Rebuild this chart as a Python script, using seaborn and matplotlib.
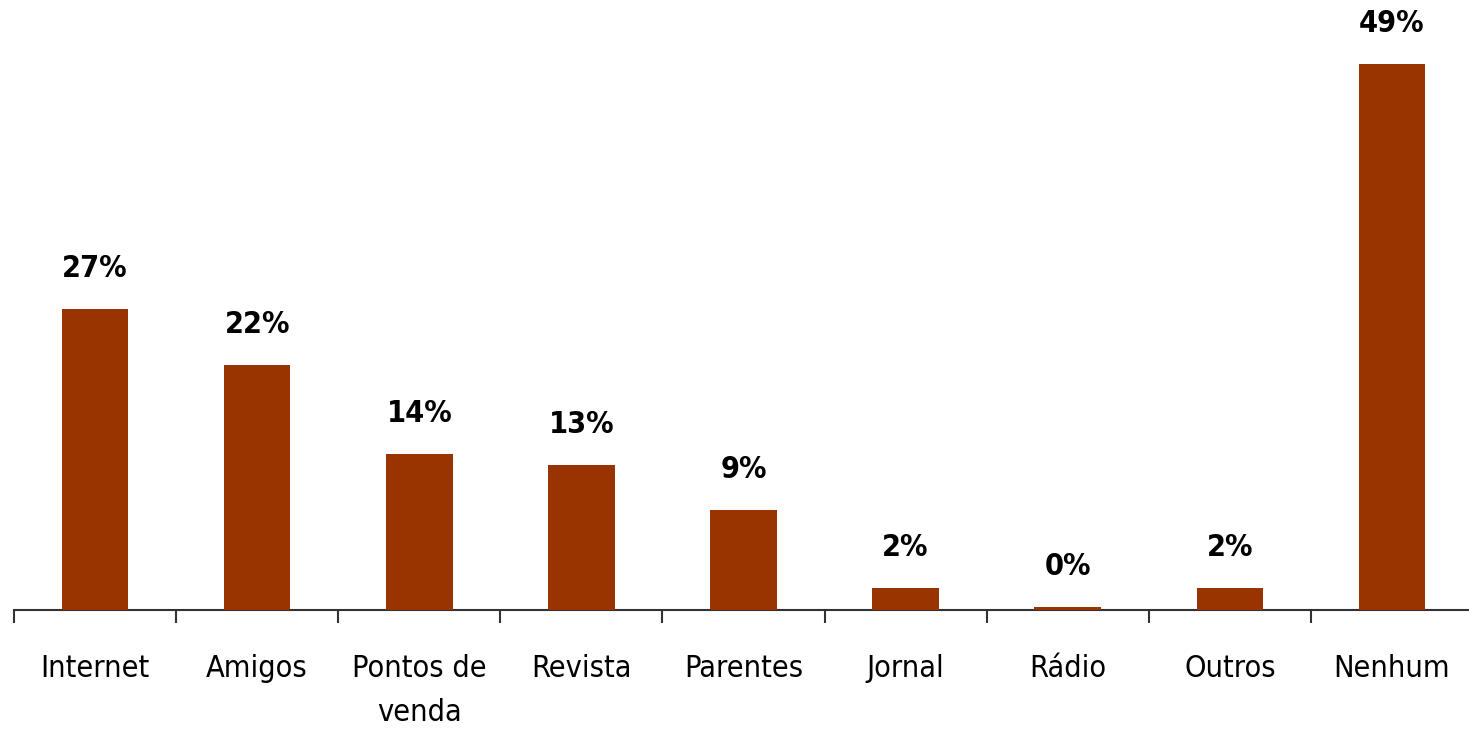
import matplotlib
matplotlib.use("Agg")
import numpy as np
import pandas as pd
import seaborn as sns
import matplotlib.pyplot as plt

# dados
categorias = ["Internet", "Amigos", "Pontos de\nvenda", "Revista", "Parentes",
              "Jornal", "Rádio", "Outros", "Nenhum"]
percentuais = [27, 22, 14, 13, 9, 2, 0.25, 2, 49]
rotulos = ["27%", "22%", "14%", "13%", "9%", "2%", "0%", "2%", "49%"]

df = pd.DataFrame({"categoria": categorias, "pct": percentuais})

sns.set_style("white")
plt.rcParams["font.family"] = ["DejaVu Sans"]
plt.rcParams["font.stretch"] = "condensed"

fig = plt.figure(figsize=(14.69, 7.35), dpi=100)
ax = fig.add_axes([14 / 1469, 125 / 735, 1459 / 1469, 557 / 735])

sns.barplot(data=df, x="categoria", y="pct", color="#993300", width=0.41,
            saturation=1, linewidth=0, ax=ax)

# rótulos de valor acima das barras
for i, (v, r) in enumerate(zip(percentuais, rotulos)):
    ax.annotate(r, (i, v), xytext=(0, 29), textcoords="offset points",
                ha="center", va="center", fontsize=22, fontweight="bold",
                fontstretch="condensed", color="black", annotation_clip=False)

ax.set_xlim(-0.5, len(categorias) - 0.5)
ax.set_ylim(0, 50)
ax.set_xlabel("")
ax.set_ylabel("")
ax.set_yticks([])

ax.set_xticks(np.arange(len(categorias)))
ax.set_xticklabels(categorias, fontsize=22, linespacing=1.65, color="black",
                   fontstretch="condensed", va="top")
ax.set_xticks(np.arange(len(categorias) + 1) - 0.5, minor=True)
ax.tick_params(axis="x", which="major", length=0, pad=32)
ax.tick_params(axis="x", which="minor", length=9.5, width=1.5, color="#333333",
               direction="out", bottom=True)

for s in ["top", "left", "right"]:
    ax.spines[s].set_visible(False)
ax.spines["bottom"].set_color("#333333")
ax.spines["bottom"].set_linewidth(1.5)
ax.spines["bottom"].set_zorder(0.5)

fig.savefig("out.png", dpi=100)
